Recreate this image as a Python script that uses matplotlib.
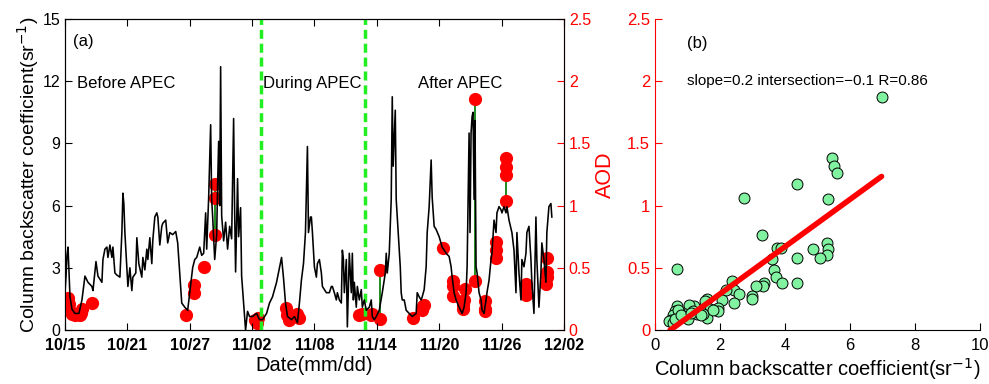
import numpy as np
import matplotlib
matplotlib.use("Agg")
import matplotlib.pyplot as plt

plt.rcParams['font.family'] = ['Liberation Sans', 'DejaVu Sans']

# ---------------- data ----------------
# days since 10/15 and column backscatter coefficient (sr^-1)
bs_day = [0.00, 0.10, 0.19, 0.29, 0.48, 0.67, 0.96, 1.34, 1.63, 1.92, 2.21, 2.59, 2.69, 2.98, 3.17,
          3.55, 3.65, 3.84, 4.03, 4.13, 4.32, 4.51, 4.61, 4.80, 4.99, 5.28, 5.47, 5.57, 5.66, 5.76,
          5.95, 6.05, 6.24, 6.43, 6.53, 6.81, 6.91, 7.10, 7.39, 7.49, 7.68, 7.87, 7.97, 8.16, 8.35,
          8.45, 8.64, 8.83, 8.93, 9.12, 9.31, 9.41, 9.69, 9.88, 10.08, 10.36, 10.65, 10.84, 11.23, 11.52,
          11.80, 12.00, 12.28, 12.48, 12.67, 12.96, 13.15, 13.34, 13.53, 13.63, 13.82, 14.01, 14.11, 14.20,
          14.40, 14.59, 14.68, 14.78, 14.88, 14.97, 15.07, 15.26, 15.45, 15.64, 15.84, 16.03, 16.22, 16.31,
          16.41, 16.60, 16.70, 16.89, 16.99, 17.18, 17.37, 17.56, 17.75, 18.04, 18.43, 18.71, 19.00, 19.39,
          19.67, 19.96, 20.35, 20.63, 20.83, 21.02, 21.21, 21.40, 21.79, 22.07, 22.36, 22.55, 22.74, 22.94,
          23.13, 23.32, 23.42, 23.61, 23.70, 23.80, 23.99, 24.18, 24.28, 24.47, 24.66, 24.76, 25.14, 25.43,
          25.62, 25.72, 25.91, 26.10, 26.20, 26.39, 26.58, 26.68, 26.78, 26.87, 27.06, 27.16, 27.35, 27.54,
          27.64, 27.74, 27.83, 28.02, 28.12, 28.31, 28.50, 28.60, 28.79, 28.98, 29.27, 29.46, 29.56, 29.75,
          29.94, 30.23, 30.52, 30.81, 30.90, 31.00, 31.19, 31.38, 31.48, 31.57, 31.77, 31.86, 32.05, 32.25,
          32.34, 32.44, 32.63, 32.82, 33.11, 33.40, 33.78, 33.88, 34.07, 34.26, 34.36, 34.55, 34.74, 34.84,
          35.03, 35.22, 35.32, 35.51, 35.70, 35.99, 36.28, 36.66, 36.95, 37.14, 37.24, 37.43, 37.62, 37.91,
          38.20, 38.39, 38.58, 38.68, 38.87, 38.96, 39.06, 39.16, 39.25, 39.35, 39.44, 39.54, 39.64, 39.83,
          40.02, 40.12, 40.31, 40.50, 40.59, 40.79, 40.98, 41.07, 41.27, 41.46, 41.55, 41.75, 41.94, 42.03,
          42.23, 42.42, 42.51, 42.71, 42.99, 43.19, 43.38, 43.47, 43.67, 43.86, 43.95, 44.15, 44.34, 44.43,
          44.63, 44.82, 44.91, 45.11, 45.30, 45.39, 45.59, 45.78, 45.87, 46.07, 46.26, 46.35, 46.55, 46.74,
          46.83]
bs_value = [1.8, 2.6, 3.6, 4.0, 1.6, 1.0, 0.8, 0.8, 1.45, 2.6, 2.3, 2.1, 1.9, 3.3, 2.6,
            2.3, 3.4, 3.9, 4.0, 3.5, 4.1, 3.5, 4.0, 2.75, 2.65, 2.55, 4.7, 6.6, 6.1, 4.7,
            3.0, 2.1, 3.0, 1.9, 2.55, 2.75, 4.45, 3.2, 2.55, 3.5, 2.9, 3.9, 3.4, 4.45, 3.2,
            4.35, 5.45, 5.65, 5.45, 4.1, 5.0, 5.15, 5.3, 4.2, 4.7, 4.6, 4.75, 4.2, 1.3, 1.1,
            0.95, 1.8, 3.0, 3.4, 3.5, 4.0, 3.6, 3.7, 5.65, 3.9, 6.4, 9.9, 6.3, 5.5,
            3.4, 4.6, 7.0, 9.1, 6.0, 12.7, 5.5, 4.3, 5.2, 3.9, 5.0, 4.4, 10.2, 6.0,
            2.8, 7.3, 4.5, 5.9, 2.6, 1.3, 0.0, 0.9, 0.65, 0.65, 0.8, 0.5, 0.5, 0.8,
            1.3, 1.6, 2.3, 3.0, 3.5, 2.5, 1.3, 0.65, 0.5, 0.65, 0.35, 1.3, 2.4, 3.2,
            4.7, 8.85, 4.7, 5.45, 5.45, 4.7, 3.05, 2.55, 3.2, 3.4, 2.75, 2.1, 1.8, 1.8,
            2.1, 2.1, 1.8, 1.45, 1.8, 1.45, 1.3, 3.85, 3.4, 1.8, 3.4, 0.15, 3.7, 1.8,
            3.7, 1.45, 2.3, 1.1, 2.1, 1.45, 1.95, 1.1, 1.45, 0.95, 1.1, 1.45, 0.65, 0.5,
            0.65, 0.95, 1.8, 2.75, 3.7, 2.75, 3.7, 6.3, 11.25, 7.9, 10.6, 6.3, 4.7, 3.05,
            1.8, 1.45, 1.45, 0.95, 0.8, 0.65, 0.8, 1.8, 1.6, 1.45, 1.6, 1.95, 3.05, 4.7,
            5.95, 8.2, 6.4, 5.0, 4.85, 4.5, 4.0, 3.7, 3.55, 3.05, 2.55, 1.8, 1.45, 1.1,
            0.8, 1.1, 1.8, 3.05, 9.5, 4.7, 9.5, 10.3, 10.5, 6.3, 10.1, 3.05, 2.75, 1.8,
            1.45, 0.95, 0.8, 1.45, 1.8, 2.4, 3.4, 3.7, 5.3, 4.7, 5.65, 5.95, 5.8, 5.65,
            5.95, 5.65, 5.95, 5.3, 4.7, 3.85, 1.8, 4.7, 2.75, 1.45, 3.4, 3.05, 3.7, 4.7,
            5.0, 3.4, 2.3, 0.8, 5.45, 3.4, 1.1, 2.75, 4.2, 3.4, 2.3, 4.7, 5.95, 6.1,
            5.45]

# AOD observations (days since 10/15, AOD)
aod_day = [0.29, 0.38, 0.48, 0.67, 0.96, 1.44, 1.54, 1.63, 2.59, 11.61, 12.38, 12.38, 13.34,
           14.45, 14.45, 14.45, 18.23, 18.43, 18.52, 21.30, 21.40, 21.59, 22.36, 22.55,
           28.31, 28.60, 29.46, 29.56, 30.33, 30.33, 33.49, 34.36, 34.45, 34.55, 36.37,
           37.33, 37.33, 37.33, 38.29, 38.29, 38.39, 38.49, 39.44, 39.44, 40.40, 40.40, 40.40,
           41.46, 41.46, 41.46, 42.42, 42.42, 42.42, 42.42, 44.34, 44.34, 44.34,
           46.26, 46.35, 46.35, 46.35]
aod_value = [0.26, 0.21, 0.15, 0.13, 0.12, 0.12, 0.14, 0.17, 0.22, 0.12, 0.36, 0.30, 0.51,
             0.76, 1.06, 1.17, 0.08, 0.06, 0.10, 0.18, 0.12, 0.08, 0.13, 0.10,
             0.12, 0.13, 0.12, 0.13, 0.48, 0.09, 0.10, 0.16, 0.19, 0.20, 0.66,
             0.39, 0.35, 0.27, 0.17, 0.20, 0.24, 0.33, 1.86, 0.39, 0.23, 0.17, 0.15,
             0.71, 0.64, 0.58, 1.38, 1.31, 1.25, 1.04, 0.37, 0.35, 0.28,
             0.37, 0.43, 0.47, 0.58]

apec_bounds = [18.9, 28.9]
period_labels = ["Before APEC", "During APEC", "After APEC"]
date_ticks = [0, 6, 12, 18, 24, 30, 36, 42, 48]
date_labels = ["10/15", "10/21", "10/27", "11/02", "11/08", "11/14", "11/20", "11/26", "12/02"]

# scatter: column backscatter vs AOD
sc_bs = [6.97, 5.44, 5.52, 5.61, 4.36, 2.75, 5.31, 3.30, 5.28, 5.31, 5.28, 5.08, 4.87, 4.36,
         3.74, 3.88, 3.59, 3.67, 3.72, 3.92, 4.36, 3.36, 3.33, 3.10, 2.99, 2.99, 0.67, 2.36,
         2.44, 2.59, 2.43, 2.18, 2.05, 1.95, 1.95, 1.59, 1.54, 1.69, 1.61, 1.38, 1.21, 1.06,
         1.18, 1.03, 0.92, 0.77, 0.67, 0.62, 0.74, 0.56, 0.49, 0.43, 0.72, 1.28, 0.87, 1.49,
         1.79, 0.55, 0.60, 0.80, 1.12, 1.40]
sc_aod = [1.87, 1.38, 1.32, 1.26, 1.17, 1.06, 1.05, 0.76, 0.70, 0.65, 0.60, 0.58, 0.65, 0.58,
          0.66, 0.66, 0.57, 0.48, 0.43, 0.375, 0.38, 0.375, 0.35, 0.35, 0.27, 0.25, 0.49, 0.39,
          0.32, 0.29, 0.22, 0.32, 0.24, 0.18, 0.15, 0.25, 0.23, 0.17, 0.10, 0.16, 0.19, 0.20,
          0.15, 0.09, 0.13, 0.13, 0.19, 0.15, 0.10, 0.12, 0.08, 0.07, 0.16, 0.13, 0.11, 0.13,
          0.16, 0.06, 0.09, 0.12, 0.14, 0.12]
fit_slope = 0.19
fit_intercept = -0.09
fit_text = "slope=0.2 intersection=\u22120.1 R=0.86"

# ---------------- figure ----------------
fig = plt.figure(figsize=(9.89, 3.84), dpi=100)
W, H = 989, 384
axA = fig.add_axes([65 / W, 1 - 330 / H, (564 - 65) / W, (330 - 19) / H])
axA2 = axA.twinx()

axA.plot(bs_day, bs_value, color='black', lw=1.15, zorder=3)
axA.set_xlim(0, 48)
axA.set_ylim(0, 15)
axA.set_yticks([0, 3, 6, 9, 12, 15])
axA.set_xticks(date_ticks)
axA.set_xticklabels(date_labels, fontweight='bold')
axA.tick_params(axis='both', direction='in', length=5, labelsize=11.5, top=True)
axA.tick_params(axis='x', pad=6)
axA.set_xlabel("Date(mm/dd)", fontsize=14.5, labelpad=2)
axA.set_ylabel("Column backscatter coefficient(sr$^{-1}$)", fontsize=14, labelpad=1)

for b in apec_bounds:
    axA.axvline(b, color='#22ee22', lw=2.5, ls=(0, (2.6, 1.4)), zorder=2)

# AOD: green line per day group with red markers
ad = np.array(aod_day)
av = np.array(aod_value)
groups = np.split(np.arange(len(ad)), np.where(np.diff(ad) > 0.5)[0] + 1)
for g in groups:
    axA2.plot(ad[g], av[g], color='#1e8c1e', lw=1.4, zorder=3)
axA2.plot(ad, av, ls='none', marker='o', ms=8.5, mfc='red', mec='red', zorder=4)
axA2.set_ylim(0, 2.5)
axA2.set_yticks([0, 0.5, 1, 1.5, 2, 2.5])
axA2.set_yticklabels(["0", "0.5", "1", "1.5", "2", "2.5"])
axA2.tick_params(axis='y', direction='in', length=5, colors='red', labelsize=11.5)
axA2.spines['right'].set_color('red')
axA2.set_xlim(0, 48)
axA.set_zorder(axA2.get_zorder() + 1)
axA.patch.set_visible(False)

axA.text(0.77, 13.9, "(a)", fontsize=12, va='center')
axA.text(1.15, 11.9, period_labels[0], fontsize=12, va='center')
axA.text(19.05, 11.9, period_labels[1], fontsize=12, va='center')
axA.text(34.0, 11.9, period_labels[2], fontsize=12, va='center')

# ---------- panel b ----------
axB = fig.add_axes([655 / W, 1 - 330 / H, (980 - 655) / W, (330 - 19) / H])
axB.scatter(sc_bs, sc_aod, s=62, facecolor='#80f2a0', edgecolor='black', linewidth=0.7, zorder=3)
xf = np.array([min(sc_bs) + 0.03, max(sc_bs)])
axB.plot(xf, fit_slope * xf + fit_intercept, color='red', lw=4, solid_capstyle='round', zorder=4)
axB.set_xlim(0, 10)
axB.set_ylim(0, 2.5)
axB.set_xticks([0, 2, 4, 6, 8, 10])
axB.set_yticks([0, 0.5, 1, 1.5, 2, 2.5])
axB.set_yticklabels(["0", "0.5", "1", "1.5", "2", "2.5"])
axB.spines['top'].set_visible(False)
axB.spines['right'].set_visible(False)
axB.spines['left'].set_color('red')
axB.tick_params(axis='both', direction='in', length=5, labelsize=12)
axB.tick_params(axis='x', pad=6)
axB.tick_params(axis='y', colors='red')
axB.set_ylabel("AOD", color='red', fontsize=15.5, labelpad=8)
axB.set_xlabel("Column backscatter coefficient(sr$^{-1}$)", fontsize=14.5, labelpad=2)
axB.text(1.0, 2.3, "(b)", fontsize=12, va='center')
axB.text(0.99, 2.0, fit_text, fontsize=11, va='center')

fig.savefig("out.png", dpi=100)
